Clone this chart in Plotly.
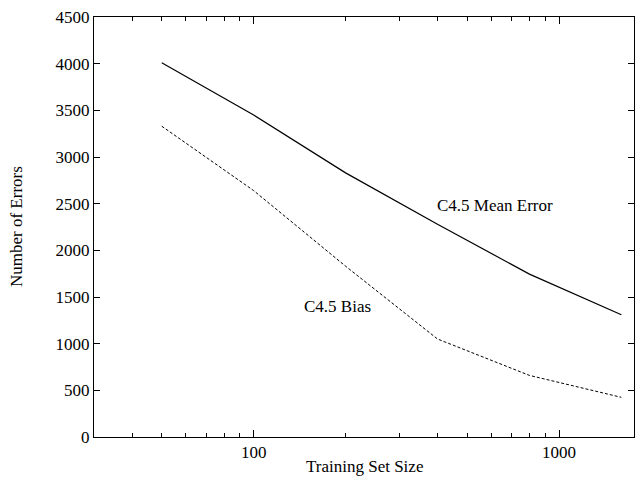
import numpy as np
import plotly.graph_objects as go

sizes = [50, 100, 200, 400, 800, 1600]
mean_error = [4010, 3450, 2830, 2280, 1745, 1310]
bias = [3330, 2640, 1830, 1050, 660, 425]

y_ticks = [0, 500, 1000, 1500, 2000, 2500, 3000, 3500, 4000, 4500]
x_ticks = [100, 1000]
x_minor = [30, 40, 50, 60, 70, 80, 90, 200, 300, 400, 500, 600, 700, 800, 900]

FONT = "Liberation Serif, Times New Roman, serif"

L, R, T, B = 94, 1, 17, 41
W, H = 635, 478
pw, ph = W - L - R, H - T - B

fig = go.Figure()
fig.add_trace(go.Scatter(x=sizes, y=mean_error, mode="lines",
                         line=dict(color="black", width=1.2), showlegend=False))
fig.add_trace(go.Scatter(x=sizes, y=bias, mode="lines",
                         line=dict(color="black", width=1, dash="3px,2px"), showlegend=False))

fig.add_annotation(x=np.log10(800), y=2480, text="C4.5 Mean Error", showarrow=False,
                   xanchor="center", yanchor="middle", xshift=-34,
                   font=dict(family=FONT, size=17, color="black"))
fig.add_annotation(x=np.log10(200), y=1400, text="C4.5 Bias", showarrow=False,
                   xanchor="center", yanchor="middle", xshift=-8,
                   font=dict(family=FONT, size=17, color="black"))

# axis titles
fig.add_annotation(xref="paper", yref="paper", x=0.5, y=-(477 - (H - B)) / ph,
                   text="Training Set Size", showarrow=False,
                   xanchor="center", yanchor="bottom", borderpad=0,
                   font=dict(family=FONT, size=17, color="black"))
fig.add_annotation(xref="paper", yref="paper", x=-(L - 16) / pw, y=0.5,
                   text="Number of Errors", showarrow=False, textangle=-90,
                   xanchor="center", yanchor="middle",
                   font=dict(family=FONT, size=17, color="black"))

fig.update_layout(
    width=W, height=H,
    margin=dict(l=L, r=R, t=T, b=B),
    paper_bgcolor="white", plot_bgcolor="white",
    font=dict(family=FONT, size=17, color="black"),
    xaxis=dict(type="log", range=[np.log10(30), np.log10(1760)], automargin=False,
               tickvals=x_ticks, ticktext=[str(v) for v in x_ticks],
               ticks="inside", ticklen=7, tickcolor="black", tickwidth=1,
               showline=True, linecolor="black", linewidth=1, mirror="allticks",
               showgrid=False, zeroline=False,
               minor=dict(tickvals=x_minor, ticks="inside", ticklen=4,
                          tickcolor="black", tickwidth=1, showgrid=False)),
    yaxis=dict(range=[0, 4500], tickvals=y_ticks, automargin=False,
               ticks="inside", ticklen=6, tickcolor="black", tickwidth=1,
               showline=True, linecolor="black", linewidth=1, mirror="allticks",
               showgrid=False, zeroline=False),
)

fig.write_html("out.html")
